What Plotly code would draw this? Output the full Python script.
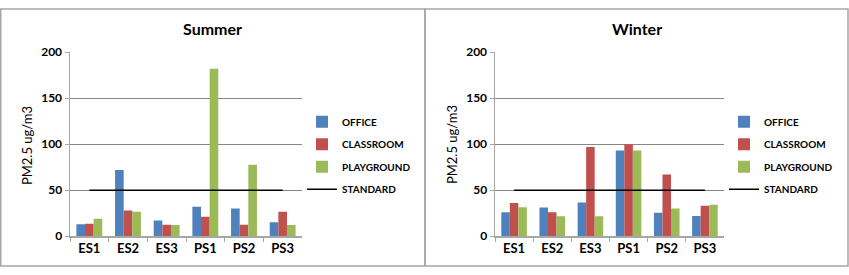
import plotly.graph_objects as go

categories = ["ES1", "ES2", "ES3", "PS1", "PS2", "PS3"]
summer_office = [13, 72, 17, 32, 30, 15]
summer_classroom = [13.5, 28, 12.5, 21, 12.5, 26.5]
summer_playground = [19, 26.5, 12, 182, 77.5, 12]
winter_office = [26, 31, 36.5, 93, 25.5, 22]
winter_classroom = [36, 26, 97, 100, 67, 33]
winter_playground = [31.5, 21.5, 21.5, 93, 30, 34]
standard = [50, 50, 50, 50, 50, 50]
series_names = ["OFFICE", "CLASSROOM", "PLAYGROUND", "STANDARD"]
panel_titles = ["Summer", "Winter"]
y_ticks = [0, 50, 100, 150, 200]

colors = ["#4F81BD", "#C0504D", "#9BBB59"]
FONT = "Lato"
W, H = 849, 275

fig = go.Figure()

panels = [
    ("x", "y", "legend", [summer_office, summer_classroom, summer_playground]),
    ("x2", "y2", "legend2", [winter_office, winter_classroom, winter_playground]),
]
for xa, ya, lg, data in panels:
    for i, vals in enumerate(data):
        fig.add_trace(go.Bar(
            x=categories, y=vals, name=series_names[i], xaxis=xa, yaxis=ya,
            marker=dict(color=colors[i], line=dict(width=0)),
            legend=lg, legendgroup=lg + series_names[i],
        ))
    fig.add_trace(go.Scatter(
        x=categories, y=standard, name=series_names[3], xaxis=xa, yaxis=ya,
        mode="lines", line=dict(color="black", width=1.5),
        legend=lg, legendgroup=lg + series_names[3],
    ))

ydom = [1 - 241.3 / H, 1 - 46.7 / H]
xdoms = [[70 / W, 302 / W], [495 / W, 724 / W]]

axis_common_x = dict(
    type="category", showgrid=False, showline=True, linecolor="#A6A6A6", linewidth=1.5,
    ticks="outside", tickson="boundaries", ticklen=4, tickcolor="#A6A6A6",
    tickfont=dict(family=FONT, size=13, color="black", weight="bold"),
    range=[-0.5, 5.5], fixedrange=True,
)
axis_common_y = dict(
    range=[0, 200], tickvals=y_ticks, showgrid=True, gridcolor="#868686", gridwidth=1,
    showline=True, linecolor="#A6A6A6", linewidth=1.5, zeroline=False,
    ticks="outside", ticklen=4, tickcolor="#A6A6A6",
    tickfont=dict(family=FONT, size=12, color="black", weight="bold"),
    domain=ydom, fixedrange=True,
)

fig.update_layout(
    width=W, height=H,
    margin=dict(l=0, r=0, t=0, b=0),
    paper_bgcolor="white", plot_bgcolor="white",
    barmode="group", bargap=0.33, bargroupgap=0,
    xaxis=dict(domain=xdoms[0], anchor="y", **axis_common_x),
    yaxis=dict(anchor="x", **axis_common_y),
    xaxis2=dict(domain=xdoms[1], anchor="y2", **axis_common_x),
    yaxis2=dict(anchor="x2", **axis_common_y),
    legend=dict(x=302 / W, y=1 - 105 / H, xanchor="left", yanchor="top",
                font=dict(family=FONT, size=10, color="black", weight="bold"),
                tracegroupgap=3.5, bgcolor="rgba(0,0,0,0)"),
    legend2=dict(x=724 / W, y=1 - 105 / H, xanchor="left", yanchor="top",
                 font=dict(family=FONT, size=10, color="black", weight="bold"),
                 tracegroupgap=3.5, bgcolor="rgba(0,0,0,0)"),
    showlegend=True,
)

# panel titles and y-axis titles
for j, (cx, axx) in enumerate([(212, 27), (637, 452)]):
    fig.add_annotation(text=panel_titles[j], x=cx / W, y=1 - 22 / H, xref="paper", yref="paper",
                       showarrow=False, font=dict(family=FONT, size=16, color="black", weight="bold"),
                       xanchor="center", yanchor="middle")
    fig.add_annotation(text="PM2.5 ug/m3", x=axx / W, y=1 - 145 / H, xref="paper", yref="paper",
                       showarrow=False, textangle=-90,
                       font=dict(family=FONT, size=13, color="black"),
                       xanchor="center", yanchor="middle")

# panel borders
fig.add_shape(type="rect", x0=0.75 / W, x1=425 / W, y0=1 - 273 / H, y1=1 - 1 / H,
              xref="paper", yref="paper", line=dict(color="#A6A6A6", width=1.5))
fig.add_shape(type="rect", x0=425 / W, x1=848 / W, y0=1 - 273 / H, y1=1 - 1 / H,
              xref="paper", yref="paper", line=dict(color="#A6A6A6", width=1.5))

fig.write_html("out.html", config={"displayModeBar": False, "staticPlot": True},
               post_script="document.body.style.margin='0';document.body.style.overflow='hidden';")
